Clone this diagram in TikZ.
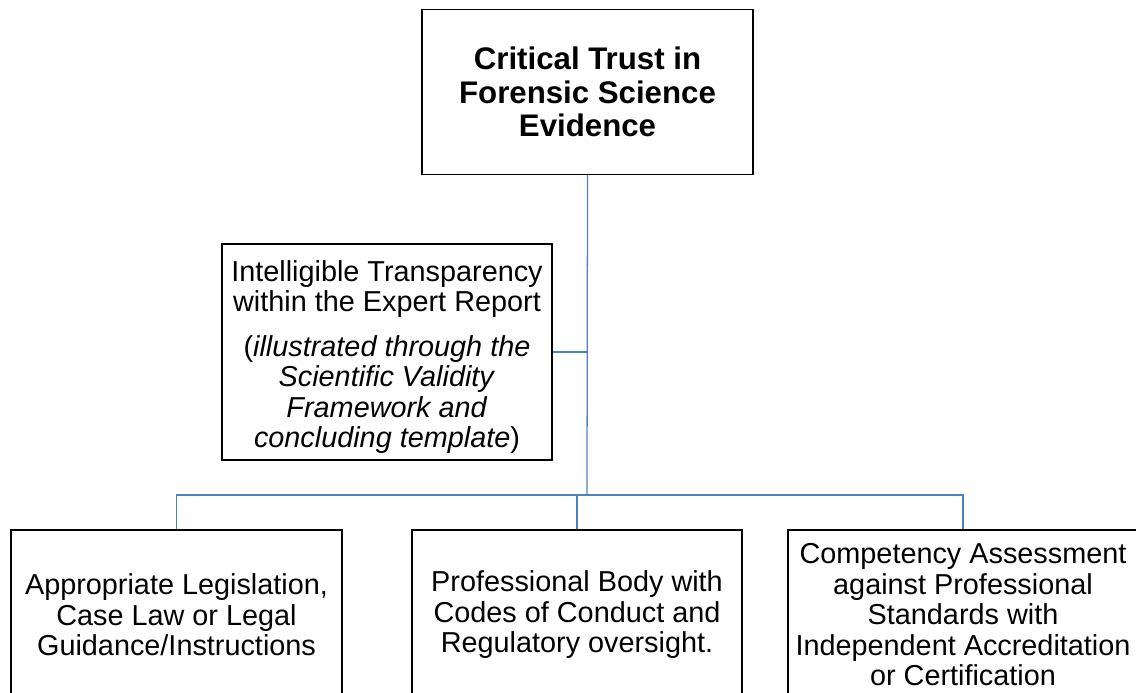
\documentclass[tikz,border=0pt]{standalone}
\usepackage{fontspec}
\setmainfont{Liberation Sans}
\usetikzlibrary{positioning}
\definecolor{linkblue}{HTML}{4F81BD}
\tikzset{
  box/.style={draw=black, line width=0.8pt, rectangle, align=center, inner sep=2pt,
              font=\fontsize{20.5}{21.7}\selectfont},
  link/.style={draw=linkblue, line width=0.9pt}
}
\begin{document}
\begin{tikzpicture}[x=0.025cm, y=-0.025cm]
  \useasboundingbox (0,0) rectangle (1136,692);
  \node[box, minimum width=331*0.025cm, minimum height=165*0.025cm,
        font=\bfseries\fontsize{22.2}{24}\selectfont] (trust) at (587.5,92)
        {Critical Trust in\\Forensic Science\\Evidence};
  \node[box, minimum width=330*0.025cm, minimum height=216*0.025cm] (itr) at (387,352)
        {\rule{0pt}{22pt}Intelligible Transparency\\within the Expert Report\\[10pt]
         (\textit{illustrated through the}\\\textit{Scientific Validity}\\
         \textit{Framework and}\\\textit{concluding template})};
  \node[box, minimum width=331*0.025cm, minimum height=170*0.025cm] (law) at (176.5,615)
        {Appropriate Legislation,\\Case Law or Legal\\Guidance/Instructions};
  \node[box, minimum width=330*0.025cm, minimum height=170*0.025cm] (body) at (577,615)
        {Professional Body with\\Codes of Conduct and\\Regulatory oversight.};
  \node[box, minimum width=350*0.025cm, minimum height=170*0.025cm] (comp) at (963,615)
        {Competency Assessment\\against Professional\\Standards with\\
         Independent Accreditation\\or Certification};
  \coordinate (bus) at (587,495);

  \draw[link] (trust.south) -- (bus);
  \draw[link] (itr.east) -- (itr.east -| bus);
  \draw[link] (law.north) -- (law.north |- bus) -- (comp.north |- bus) -- (comp.north);
  \draw[link] (body.north) -- (body.north |- bus);
\end{tikzpicture}
\end{document}
